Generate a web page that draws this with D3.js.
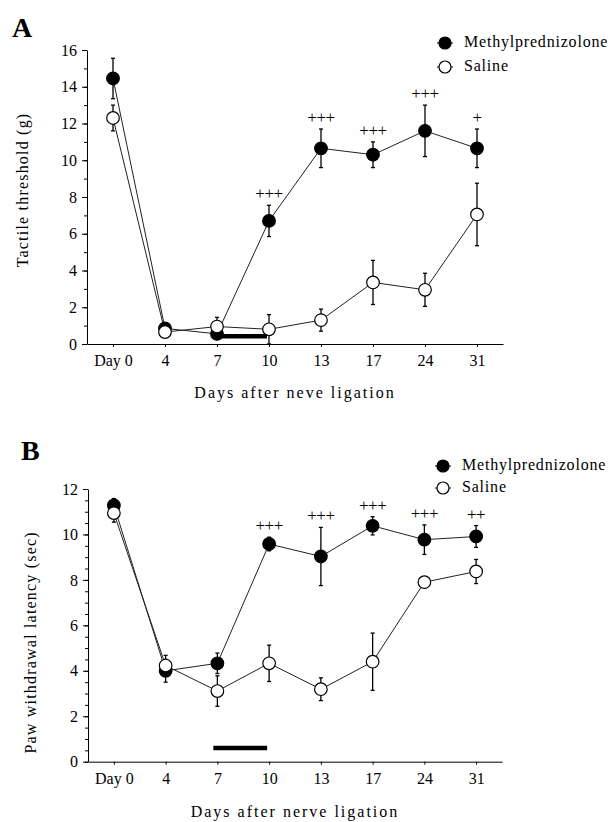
<!DOCTYPE html>
<html>
<head>
<meta charset="utf-8">
<script src="https://cdn.jsdelivr.net/npm/d3@7"></script>
<style>
  body { margin: 0; background: #fff; }
</style>
</head>
<body>
<div id="chart"></div>
<script>
////////// Data //////////
const days = ["Day 0", "4", "7", "10", "13", "17", "24", "31"];
const seriesNames = ["Methylprednizolone", "Saline"];

// panel A - tactile threshold (g)
const tactileMethyl    = [14.45, 0.85, 0.55, 6.7, 10.65, 10.3, 11.6, 10.65];
const tactileMethylErr = [1.1, 0.15, 0.15, 0.85, 1.05, 0.7, 1.4, 1.05];
const tactileSaline    = [12.3, 0.65, 0.95, 0.8, 1.3, 3.35, 2.95, 7.05];
const tactileSalineErr = [0.7, 0.15, 0.5, 0.8, 0.6, 1.2, 0.9, 1.7];
const tactileSig       = ["", "", "", "+++", "+++", "+++", "+++", "+"];
const tactileTicks     = [0, 2, 4, 6, 8, 10, 12, 14, 16];

// panel B - paw withdrawal latency (sec)
const pawMethyl    = [11.28, 4.0, 4.33, 9.58, 9.03, 10.38, 9.77, 9.91];
const pawMethylErr = [0.3, 0.5, 0.45, 0.3, 1.28, 0.4, 0.65, 0.48];
const pawSaline    = [10.94, 4.23, 3.11, 4.33, 3.19, 4.4, 7.9, 8.37];
const pawSalineErr = [0.4, 0.45, 0.67, 0.8, 0.5, 1.26, 0.2, 0.53];
const pawSig       = ["", "", "", "+++", "+++", "+++", "+++", "++"];
const pawTicks     = [0, 2, 4, 6, 8, 10, 12];

// treatment period bar (drug given day 7 - 10)
const treatmentDays = ["7", "10"];
const treatmentLevelA = 0.42;
const treatmentLevelB = 0.6;

const FONT = "'Liberation Serif', 'DejaVu Serif', serif";
const W = 616, H = 822;

const svg = d3.select("#chart").append("svg")
  .attr("width", W)
  .attr("height", H);

function drawPanel(p) {
  const g = svg.append("g");

  const x = d3.scalePoint().domain(days).range([p.left, p.right]).padding(0.5);
  const y = d3.scaleLinear().domain([0, p.yMax]).range([p.bottom, p.top]);

  // minor y ticks
  g.append("g")
    .attr("transform", `translate(${p.left},0)`)
    .call(d3.axisLeft(y).tickValues(d3.range(0, p.yMax + 0.001, p.minorStep)).tickSize(3).tickSizeOuter(0).tickFormat(""))
    .call(a => a.select(".domain").remove());

  // major y ticks
  const yAx = g.append("g")
    .attr("transform", `translate(${p.left},0)`)
    .call(d3.axisLeft(y).tickValues(p.ticks).tickSize(5).tickSizeOuter(0).tickPadding(5));
  yAx.selectAll("text").style("font-size", "16px");

  // x axis
  const xAx = g.append("g")
    .attr("transform", `translate(0,${p.bottom})`)
    .call(d3.axisBottom(x).tickSize(3).tickSizeOuter(0).tickPadding(8));
  xAx.selectAll("text").style("font-size", "16px");

  g.selectAll(".domain, .tick line").attr("stroke", "#000");

  // axis titles
  g.append("text")
    .attr("transform", `translate(${p.yLabelX},${(p.top + p.bottom) / 2 + p.yLabelShift}) rotate(-90)`)
    .attr("text-anchor", "middle")
    .attr("dominant-baseline", "middle")
    .style("font-size", "16px")
    .style("letter-spacing", "1.2px")
    .text(p.yLabel);

  g.append("text")
    .attr("x", (p.left + p.right) / 2)
    .attr("y", p.xLabelY)
    .attr("text-anchor", "middle")
    .style("font-size", "16px")
    .style("letter-spacing", "2px")
    .text(p.xLabel);

  // panel letter
  g.append("text")
    .attr("x", p.letterX)
    .attr("y", p.letterY)
    .style("font-size", "28px")
    .style("font-weight", "bold")
    .text(p.letter);

  const series = [
    { vals: p.methyl, err: p.methylErr, fill: "#000" },
    { vals: p.saline, err: p.salineErr, fill: "#fff" }
  ];

  const line = d3.line().x((d, i) => x(days[i])).y(d => y(d));

  series.forEach(s => {
    g.append("path")
      .attr("d", line(s.vals))
      .attr("fill", "none")
      .attr("stroke", "#222")
      .attr("stroke-width", 1);
  });

  series.forEach(s => {
    const eb = g.append("g").attr("stroke", "#000").attr("stroke-width", 1.3);
    s.vals.forEach((v, i) => {
      const cx = x(days[i]);
      const lo = Math.max(0, v - s.err[i]), hi = v + s.err[i];
      eb.append("line").attr("x1", cx).attr("x2", cx).attr("y1", y(lo)).attr("y2", y(hi));
      eb.append("line").attr("x1", cx - 2).attr("x2", cx + 2).attr("y1", y(hi)).attr("y2", y(hi));
      eb.append("line").attr("x1", cx - 2).attr("x2", cx + 2).attr("y1", y(lo)).attr("y2", y(lo));
    });
  });

  series.forEach(s => {
    g.append("g").selectAll("circle")
      .data(s.vals)
      .enter().append("circle")
      .attr("cx", (d, i) => x(days[i]))
      .attr("cy", d => y(d))
      .attr("r", 6.3)
      .attr("fill", s.fill)
      .attr("stroke", "#000")
      .attr("stroke-width", 1.2);
  });

  // treatment bar
  g.append("line")
    .attr("x1", x(treatmentDays[0]) - 4)
    .attr("x2", x(treatmentDays[1]) - 2)
    .attr("y1", y(p.barLevel))
    .attr("y2", y(p.barLevel))
    .attr("stroke", "#000")
    .attr("stroke-width", 4.5);

  // significance marks above methylprednisolone error bars
  g.append("g").selectAll("text")
    .data(p.sig)
    .enter().append("text")
    .attr("x", (d, i) => x(days[i]))
    .attr("y", (d, i) => y(p.methyl[i] + p.methylErr[i]) - 6)
    .attr("text-anchor", "middle")
    .style("font-size", "17px")
    .style("letter-spacing", "-0.5px")
    .text(d => d);

  // legend
  const lg = g.append("g");
  seriesNames.forEach((name, i) => {
    const ly = p.legendY + i * p.legendGap;
    lg.append("line")
      .attr("x1", p.legendX - 8).attr("x2", p.legendX + 8)
      .attr("y1", ly).attr("y2", ly)
      .attr("stroke", "#000");
    lg.append("circle")
      .attr("cx", p.legendX).attr("cy", ly)
      .attr("r", 6)
      .attr("fill", series[i].fill)
      .attr("stroke", "#000")
      .attr("stroke-width", 1.2);
    lg.append("text")
      .attr("x", p.legendX + 19)
      .attr("y", ly)
      .attr("dominant-baseline", "middle")
      .style("font-size", "16px")
      .style("letter-spacing", "0.8px")
      .text(name);
  });
}

drawPanel({
  letter: "A", letterX: 12, letterY: 37,
  left: 87, right: 503, top: 50, bottom: 344,
  yMax: 16, ticks: tactileTicks, minorStep: 1,
  methyl: tactileMethyl, methylErr: tactileMethylErr,
  saline: tactileSaline, salineErr: tactileSalineErr,
  sig: tactileSig, barLevel: treatmentLevelA,
  yLabel: "Tactile threshold (g)", yLabelX: 24, yLabelShift: -7,
  xLabel: "Days after neve ligation", xLabelY: 398,
  legendX: 445, legendY: 43, legendGap: 24
});

drawPanel({
  letter: "B", letterX: 21, letterY: 460,
  left: 88, right: 502, top: 489, bottom: 761.7,
  yMax: 12, ticks: pawTicks, minorStep: 0.5,
  methyl: pawMethyl, methylErr: pawMethylErr,
  saline: pawSaline, salineErr: pawSalineErr,
  sig: pawSig, barLevel: treatmentLevelB,
  yLabel: "Paw withdrawal latency (sec)", yLabelX: 32, yLabelShift: 17,
  xLabel: "Days after nerve ligation", xLabelY: 817,
  legendX: 443, legendY: 466, legendGap: 22
});

// force the serif face on every label, axis ticks included
svg.selectAll("text").style("font-family", FONT).attr("fill", "#000");
</script>
</body>
</html>
